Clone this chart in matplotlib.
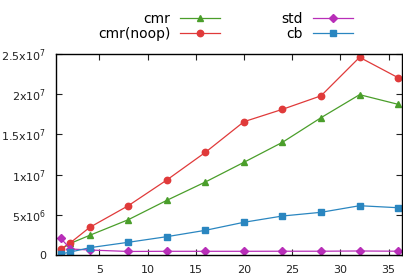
import matplotlib
matplotlib.use("Agg")
import matplotlib.pyplot as plt
from matplotlib.ticker import FuncFormatter

# thread counts and throughput per variant
threads = [1, 2, 4, 8, 12, 16, 20, 24, 28, 32, 36]
cmr = [0.70e6, 1.45e6, 2.45e6, 4.39e6, 6.80e6, 9.08e6, 1.153e7, 1.402e7, 1.708e7, 1.994e7, 1.874e7]
cmr_noop = [0.75e6, 1.53e6, 3.44e6, 6.13e6, 9.33e6, 1.277e7, 1.658e7, 1.812e7, 1.980e7, 2.459e7, 2.205e7]
std = [2.07e6, 0.75e6, 0.62e6, 0.44e6, 0.46e6, 0.46e6, 0.46e6, 0.47e6, 0.47e6, 0.50e6, 0.47e6]
cb = [0.12e6, 0.37e6, 0.91e6, 1.58e6, 2.28e6, 3.07e6, 4.07e6, 4.85e6, 5.31e6, 6.13e6, 5.88e6]

W, H = 403, 274
fig = plt.figure(figsize=(W / 100, H / 100), dpi=100)
ax = fig.add_axes([56 / W, (H - 255) / H, (402 - 56) / W, (255 - 54) / H])

l1, = ax.plot(threads, cmr, color="#4a9e2a", lw=0.9, marker="^", ms=5, label="cmr")
l2, = ax.plot(threads, cmr_noop, color="#e03a3a", lw=0.9, marker="o", ms=4.6, label="cmr(noop)")
l3, = ax.plot(threads, std, color="#b82eb8", lw=0.9, marker="D", ms=3.6, label="std")
l4, = ax.plot(threads, cb, color="#2a86c0", lw=0.9, marker="s", ms=4.2, label="cb")

ax.set_xlim(0.5, 36.4)
ax.set_ylim(0, 2.5e7)
ax.set_xticks([5, 10, 15, 20, 25, 30, 35])
ax.set_yticks([0, 5e6, 1e7, 1.5e7, 2e7, 2.5e7])


def sci(v, pos):
    if v == 0:
        return "0"
    exp = 0
    m = v
    while m >= 10:
        m /= 10
        exp += 1
    ms = f"{m:g}"
    return ms + "x10$^{" + str(exp) + "}$"


ax.yaxis.set_major_formatter(FuncFormatter(sci))
ax.tick_params(direction="in", top=True, right=True, length=4, width=0.8,
               labelsize=8, colors="#222222", labelcolor="#222222")
ax.tick_params(axis="y", pad=7)
ax.tick_params(axis="x", pad=7)
for s in ax.spines.values():
    s.set_linewidth(1.0)
    s.set_color("black")

fig.legend(handles=[l1, l2, l3, l4], ncol=2, markerfirst=False, frameon=False,
           loc="upper left", bbox_to_anchor=(98 / W, 1 - 12 / H),
           fontsize=10, handlelength=2.9, handletextpad=0.7,
           columnspacing=4.4, labelspacing=0.08, borderpad=0, borderaxespad=0)

fig.savefig("out.png", dpi=100)
